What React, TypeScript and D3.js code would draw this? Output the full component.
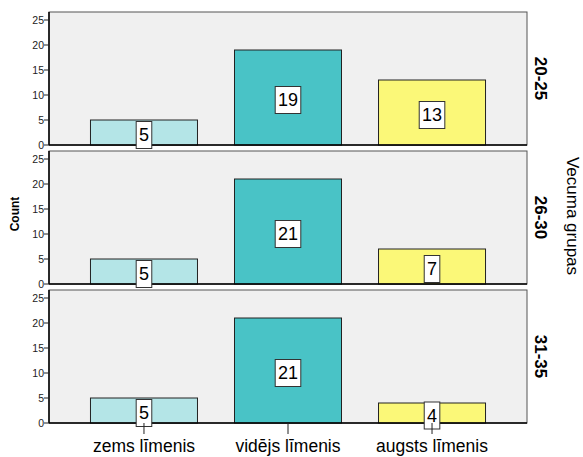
import React from "react";
import * as d3 from "d3";

const levels = ["zems līmenis", "vidējs līmenis", "augsts līmenis"];
const ageGroups = ["20-25", "26-30", "31-35"];
const counts2025 = [5, 19, 13];
const counts2630 = [5, 21, 7];
const counts3135 = [5, 21, 4];
const yTicks = [0, 5, 10, 15, 20, 25];

const panelData = [counts2025, counts2630, counts3135];
const barColors = ["#b4e5e7", "#49c3c6", "#fbf878"];

const W = 583;
const H = 457;
const left = 49;
const right = 527;
const panelTop = 12;
const panelH = 133;
const panelGap = 6;
const font = "'Liberation Sans', Arial, sans-serif";

const App = () => {
  const x = d3
    .scaleBand()
    .domain(levels)
    .range([left, right])
    .paddingInner(0.257)
    .paddingOuter(0.288);

  // panels stacked vertically, one per age group
  const rows = d3
    .scaleBand()
    .domain(ageGroups)
    .range([panelTop, panelTop + 3 * panelH + 2 * panelGap])
    .paddingInner(panelGap / (panelH + panelGap))
    .paddingOuter(0);

  const bottomY = (rows(ageGroups[2]) ?? 0) + rows.bandwidth();

  return (
    <svg
      width={W}
      height={H}
      style={{ position: "absolute", left: 0, top: 0, background: "#fff" }}
      fontFamily={font}
    >
      {ageGroups.map((g, gi) => {
        const top = rows(g) ?? 0;
        const y = d3
          .scaleLinear()
          .domain([0, 26.6])
          .range([top + rows.bandwidth(), top]);
        const vals = panelData[gi];
        return (
          <g key={g}>
            <rect
              x={left}
              y={top}
              width={right - left}
              height={rows.bandwidth()}
              fill="#f0f0f0"
              stroke="#555"
            />
            {vals.map((v, i) => (
              <rect
                key={i}
                x={x(levels[i]) ?? 0}
                y={y(v)}
                width={x.bandwidth()}
                height={y(0) - y(v)}
                fill={barColors[i]}
                stroke="#222"
                strokeWidth={1}
              />
            ))}
            {/* axes */}
            <line x1={left} x2={left} y1={top} y2={y(0)} stroke="#000" strokeWidth={1.5} />
            <line x1={left} x2={right} y1={y(0)} y2={y(0)} stroke="#000" strokeWidth={1.5} />
            {yTicks.map((t) => (
              <g key={t}>
                <line x1={left - 5} x2={left} y1={y(t)} y2={y(t)} stroke="#222" />
                <text
                  x={left - 5}
                  y={y(t)}
                  dy="0.35em"
                  textAnchor="end"
                  fontSize={10.5}
                  fill="#222"
                >
                  {t}
                </text>
              </g>
            ))}
            {/* value labels */}
            {vals.map((v, i) => {
              const cx = (x(levels[i]) ?? 0) + x.bandwidth() / 2;
              const cy = (y(v) + y(0)) / 2 + 2.5;
              const label = String(v);
              const tw = label.length * 10;
              return (
                <g key={"l" + i}>
                  <rect
                    x={cx - tw / 2 - 2.8}
                    y={cy - 13.5}
                    width={tw + 5.6}
                    height={27}
                    fill="#fff"
                    stroke="#333"
                  />
                  <text
                    x={cx}
                    y={cy}
                    dy="0.36em"
                    textAnchor="middle"
                    fontSize={18}
                    fill="#000"
                  >
                    {label}
                  </text>
                </g>
              );
            })}
            <text
              transform={`translate(535,${top + rows.bandwidth() / 2}) rotate(90)`}
              textAnchor="middle"
              fontSize={17}
              fontWeight="bold"
              fill="#000"
            >
              {g}
            </text>
          </g>
        );
      })}
      {/* x axis ticks and labels */}
      {levels.map((l) => {
        const cx = (x(l) ?? 0) + x.bandwidth() / 2;
        return (
          <g key={l}>
            <line x1={cx} x2={cx} y1={bottomY} y2={bottomY + 11} stroke="#222" />
            <text x={cx} y={bottomY + 29} textAnchor="middle" fontSize={17.5} fill="#000">
              {l}
            </text>
          </g>
        );
      })}
      <text
        transform={`translate(19,214) rotate(-90)`}
        textAnchor="middle"
        fontSize={12}
        fontWeight="bold"
        fill="#000"
      >
        Count
      </text>
      <text
        transform={`translate(567,216) rotate(90)`}
        textAnchor="middle"
        fontSize={17}
        fill="#000"
      >
        Vecuma grupas
      </text>
    </svg>
  );
};

export default App;
